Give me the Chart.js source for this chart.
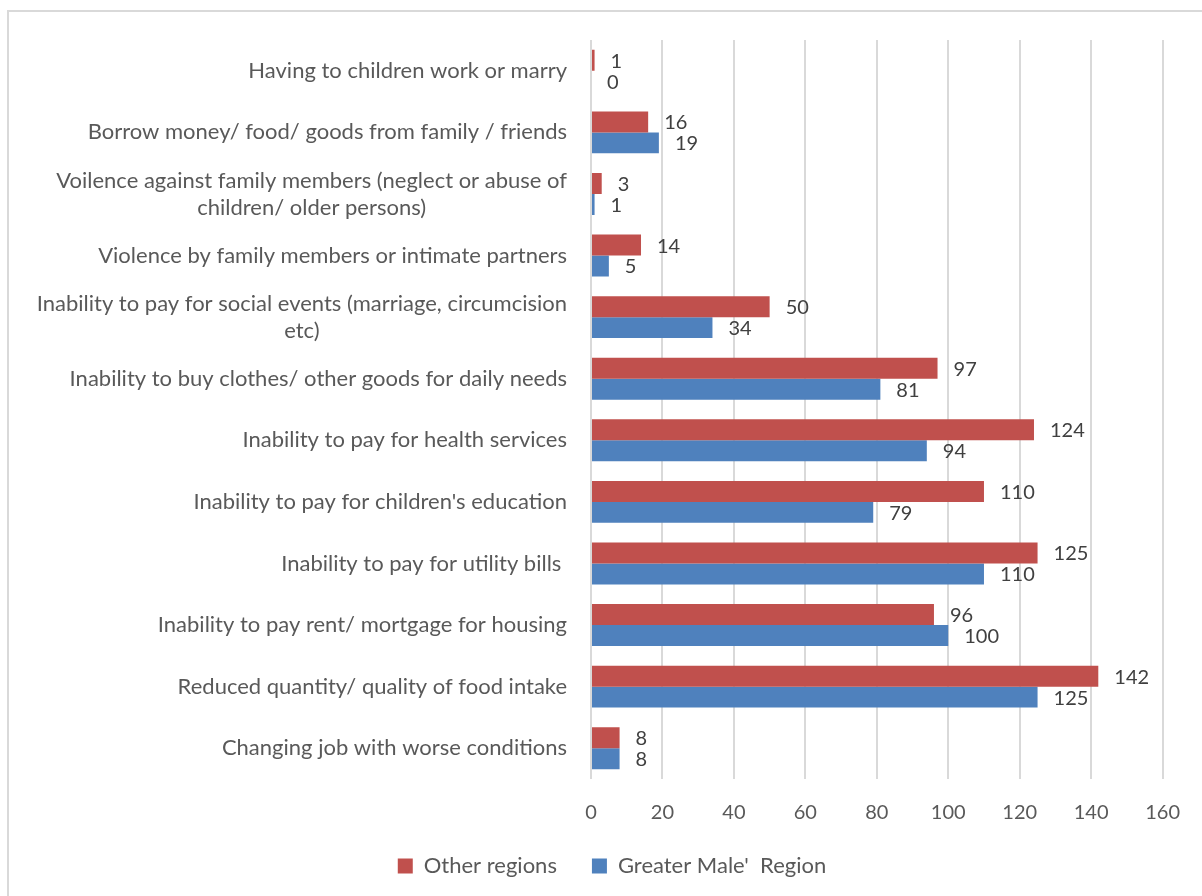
<!DOCTYPE html>
<html>
<head>
<meta charset="utf-8">
<script src="https://cdn.jsdelivr.net/npm/chart.js@4"></script>
<style>
  body { margin: 0; background: #fff; overflow: hidden; }
  #frame { position: absolute; left: 7px; top: 10px; width: 1193px; height: 884px; border: 2px solid #d9d9d9; border-right: none; border-bottom: none; }
  #chart_wrap { position: relative; width: 1193px; height: 884px; }
</style>
</head>
<body>
<div id="frame"><div id="chart_wrap"><canvas id="chart_coping"></canvas></div></div>
<script>
var categories = [
  ['Having to children work or marry'],
  ['Borrow money/ food/ goods from family / friends'],
  ['Voilence against family members (neglect or abuse of', 'children/ older persons)'],
  ['Violence by family members or intimate partners'],
  ['Inability to pay for social events (marriage, circumcision', 'etc)'],
  ['Inability to buy clothes/ other goods for daily needs'],
  ['Inability to pay for health services'],
  ["Inability to pay for children's education"],
  ['Inability to pay for utility bills '],
  ['Inability to pay rent/ mortgage for housing'],
  ['Reduced quantity/ quality of food intake'],
  ['Changing job with worse conditions']
];
var other_regions = [1, 16, 3, 14, 50, 97, 124, 110, 125, 96, 142, 8];
var greater_male = [0, 19, 1, 5, 34, 81, 94, 79, 110, 100, 125, 8];
var x_ticks = [0, 20, 40, 60, 80, 100, 120, 140, 160];

var font_family = 'Lato';

// category labels: right aligned block, lines centred inside it
var category_labels = {
  id: 'category_labels',
  afterDraw: function (chart) {
    var ctx = chart.ctx;
    var y_scale = chart.scales.y;
    var right = chart.scales.x.left - 24;
    ctx.save();
    ctx.font = '22px ' + font_family;
    ctx.fillStyle = '#595959';
    ctx.textAlign = 'center';
    ctx.textBaseline = 'middle';
    categories.forEach(function (lines, i) {
      var widest = Math.max.apply(null, lines.map(function (l) { return ctx.measureText(l.trim()).width; }));
      var cx = right - widest / 2 - (lines[0].endsWith(' ') ? ctx.measureText(' ').width : 0);
      var cy = y_scale.getPixelForTick(i) - (lines.length - 1) * 27 / 2;
      lines.forEach(function (l, j) {
        ctx.fillText(l.trim(), cx, cy + j * 27);
      });
    });
    ctx.restore();
  }
};

// value labels at the end of each bar
var value_labels = {
  id: 'value_labels',
  afterDatasetsDraw: function (chart) {
    var ctx = chart.ctx;
    ctx.save();
    ctx.font = '20px ' + font_family;
    ctx.fillStyle = '#404040';
    ctx.textAlign = 'left';
    ctx.textBaseline = 'middle';
    chart.data.datasets.forEach(function (ds, d) {
      chart.getDatasetMeta(d).data.forEach(function (bar, i) {
        ctx.fillText(String(ds.data[i]), bar.x + 16, bar.y + 1);
      });
    });
    ctx.restore();
  }
};

// legend sits a little right of the canvas centre
var legend_shift = {
  id: 'legend_shift',
  afterLayout: function (chart) {
    chart.legend.left += 25;
    chart.legend.right += 25;
    chart.legend.top -= 4;
    chart.legend.bottom -= 4;
  }
};

var chart_coping = document.getElementById('chart_coping').getContext('2d');

var mychart = new Chart(chart_coping, {
  type: 'bar',
  data: {
    labels: categories,
    datasets: [{
      label: 'Other regions',
      data: other_regions,
      backgroundColor: '#C0504D',
      categoryPercentage: 0.68,
      barPercentage: 1
    }, {
      label: "Greater Male'  Region",
      data: greater_male,
      backgroundColor: '#4F81BD',
      categoryPercentage: 0.68,
      barPercentage: 1
    }]
  },
  options: {
    indexAxis: 'y',
    responsive: true,
    maintainAspectRatio: false,
    animation: false,
    layout: {
      padding: { left: 0, right: 37, top: 28, bottom: 5 }
    },
    scales: {
      x: {
        min: 0,
        max: 160,
        afterBuildTicks: function (scale) {
          scale.ticks = x_ticks.map(function (v) { return { value: v }; });
        },
        afterFit: function (scale) { scale.height = 45; },
        grid: { color: '#d9d9d9', lineWidth: 2, drawTicks: false },
        border: { display: false },
        ticks: { color: '#595959', padding: 22, font: { family: font_family, size: 20 } }
      },
      y: {
        afterFit: function (scale) { scale.width = 582; },
        grid: { display: false },
        border: { display: false },
        ticks: { display: false }
      }
    },
    plugins: {
      legend: {
        position: 'bottom',
        labels: {
          boxWidth: 15,
          boxHeight: 15,
          padding: 35,
          color: '#595959',
          font: { family: font_family, size: 22 }
        }
      },
      tooltip: { enabled: false }
    }
  },
  plugins: [category_labels, value_labels, legend_shift]
});
</script>
</body>
</html>
